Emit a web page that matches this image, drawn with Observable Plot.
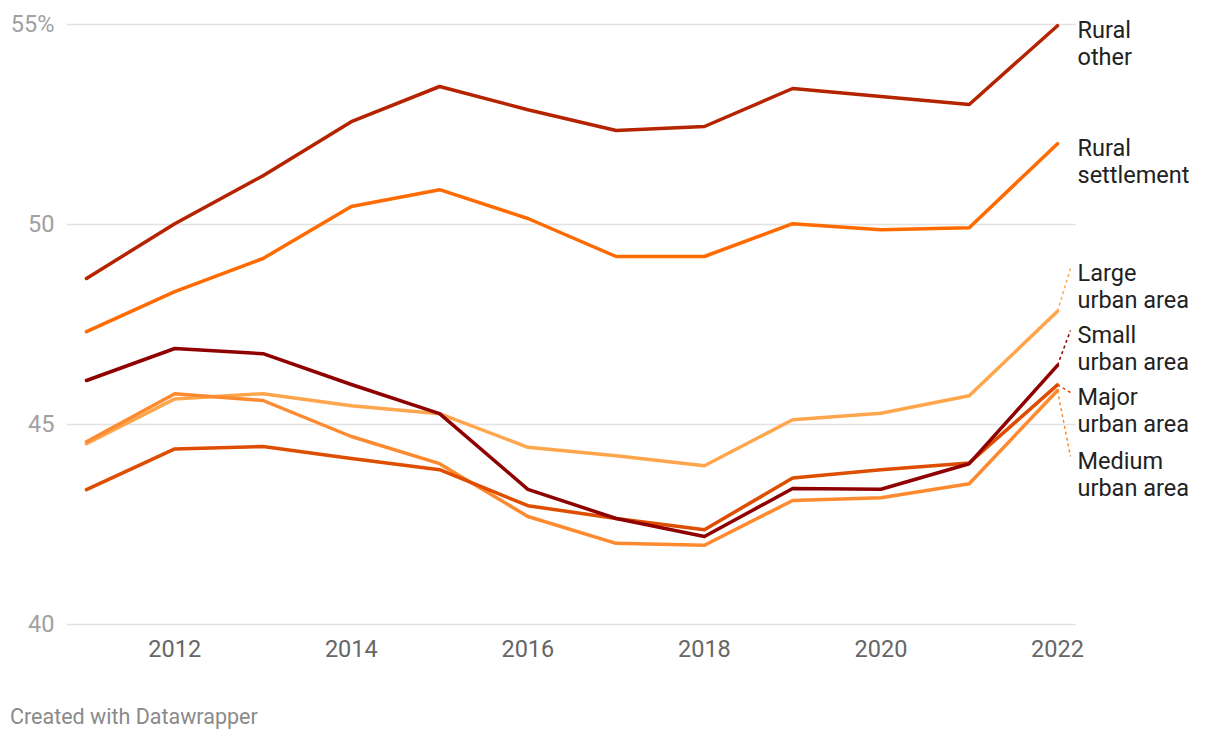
<!DOCTYPE html>
<html><head><meta charset="utf-8">
<script src="https://cdn.jsdelivr.net/npm/d3@7"></script>
<script src="https://cdn.jsdelivr.net/npm/@observablehq/plot@0.6"></script>
<style>
body{margin:0;background:#fff;font-family:Roboto,sans-serif}
#cap{position:absolute;left:10px;top:704px;font-size:21.5px;line-height:26px;color:#8a8a8a;font-family:Roboto,sans-serif}
</style></head><body><div id="chart"></div><div id="cap">Created with Datawrapper</div>
<script>
const years = [2011,2012,2013,2014,2015,2016,2017,2018,2019,2020,2021,2022];
const ruralOther      = [48.65,50.02,51.22,52.57,53.45,52.87,52.35,52.45,53.40,53.20,53.00,54.97];
const ruralSettlement = [47.32,48.32,49.15,50.45,50.87,50.15,49.20,49.20,50.02,49.87,49.92,52.02];
const smallUrban      = [46.10,46.90,46.77,46.00,45.27,43.38,42.65,42.20,43.40,43.38,44.02,46.48];
const largeUrban      = [44.52,45.64,45.77,45.47,45.27,44.43,44.22,43.97,45.12,45.28,45.72,47.83];
const majorUrban      = [43.37,44.39,44.45,44.15,43.87,42.97,42.65,42.37,43.66,43.87,44.04,45.99];
const mediumUrban     = [44.57,45.77,45.60,44.70,44.02,42.70,42.03,41.98,43.10,43.17,43.52,45.85];

const names  = ["Rural other","Rural settlement","Small urban area","Large urban area","Major urban area","Medium urban area"];
const labels = ["Rural\nother","Rural\nsettlement","Small\nurban area","Large\nurban area","Major\nurban area","Medium\nurban area"];
const colors = ["#b52300","#ff6b00","#8f0000","#ffa64d","#de4d00","#fe8a30"];
const labelY = [54.54,51.60,46.91,48.46,45.36,43.76];
const connector = [false,false,true,true,true,true];
const values = [ruralOther,ruralSettlement,smallUrban,largeUrban,majorUrban,mediumUrban];
const yTicks = [40,45,50,55];
const xTicks = [2012,2014,2016,2018,2020,2022];

const rows = names.flatMap((n,i)=>years.map((yr,j)=>({name:n,color:colors[i],year:yr,value:values[i][j]})));
const order = [3,5,4,2,1,0];
const orderedRows = order.flatMap(i=>rows.filter(r=>r.name===names[i]));
const lab = names.map((n,i)=>({name:n,label:labels[i],color:colors[i],y:labelY[i],end:values[i][values[i].length-1],conn:connector[i]}));
const lastYear = years[years.length-1];

const chart = Plot.plot({
  width:1220, height:690,
  marginLeft:86, marginRight:163, marginTop:24, marginBottom:66,
  style:{fontFamily:"Roboto, sans-serif", background:"#fff"},
  x:{domain:[years[0],lastYear]},
  y:{domain:[40,55]},
  marks:[
    Plot.ruleY(yTicks,{stroke:"#e3e3e3", strokeWidth:1.5, insetLeft:-19, insetRight:-19}),
    Plot.axisY(yTicks,{tickSize:0, tickPadding:32, tickFormat:d=>d===55?"55%":String(d), fontSize:23.5, color:"#a0a0a0", label:null}),
    Plot.axisX(xTicks,{tickSize:0, tickPadding:16, tickFormat:d=>String(d), fontSize:23.5, color:"#666", label:null}),
    Plot.lineY(orderedRows,{x:"year", y:"value", z:"name", stroke:"color", strokeWidth:3.5, strokeLinejoin:"round", strokeLinecap:"round"}),
    Plot.link(lab.filter(d=>d.conn),{x1:()=>lastYear, y1:"end", x2:()=>lastYear+0.147, y2:d=>d.y+0.44, stroke:"color", strokeWidth:1.5, strokeDasharray:"3,3"}),
    Plot.text(lab,{x:()=>lastYear, y:"y", text:"label", dx:20, textAnchor:"start", lineAnchor:"middle", lineHeight:1.16, fontSize:23.5, fill:"#222"})
  ]
});
document.getElementById("chart").appendChild(chart);
</script></body></html>
